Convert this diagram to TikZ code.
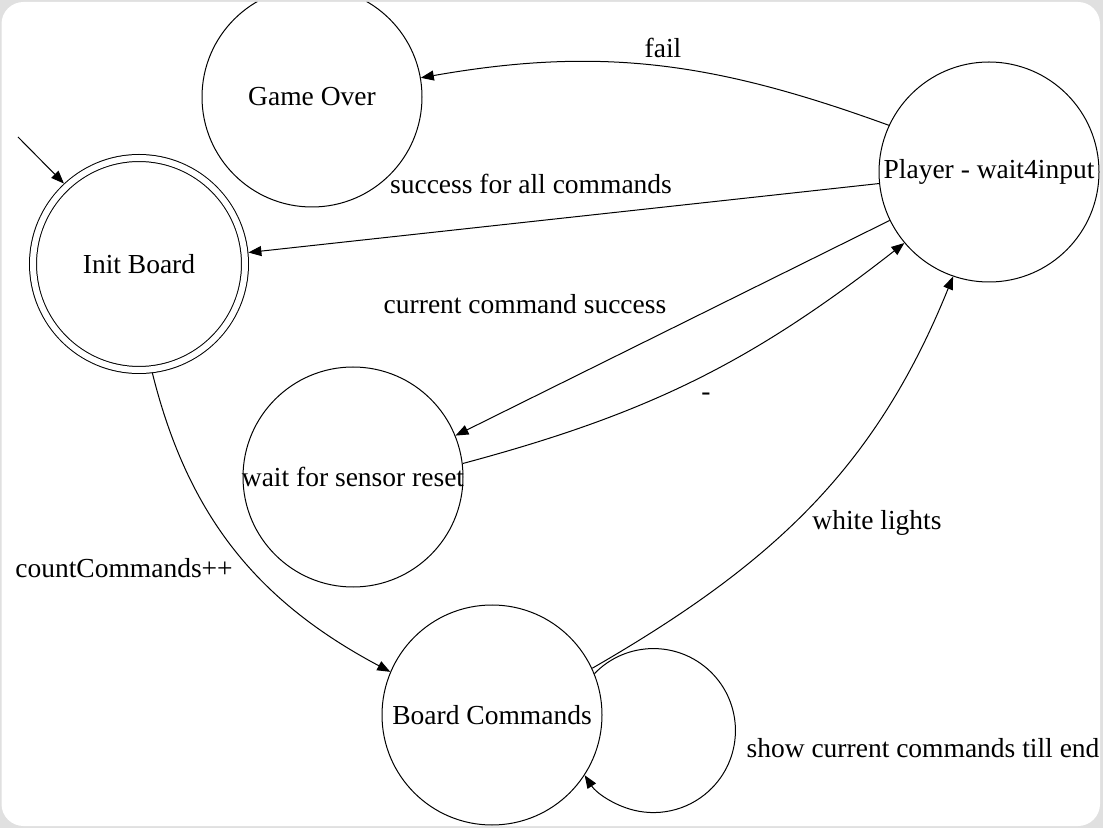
\documentclass[tikz,border=0pt]{standalone}
\usepackage{fontspec}
\setmainfont{Liberation Serif}
\usetikzlibrary{arrows.meta}
\definecolor{framegray}{RGB}{224,224,224}

\begin{document}
\begin{tikzpicture}[x=1pt,y=1pt,
	state/.style={circle,draw,line width=1pt,minimum size=220pt,inner sep=0pt,font=\fontsize{27.5}{33}\selectfont},
	lbl/.style={inner sep=0pt,font=\fontsize{27.5}{33}\selectfont},
	trans/.style={line width=1pt,-{Triangle[length=13pt,width=10pt]}}]
			\useasboundingbox (0,0) rectangle (1103,828);
			\fill[framegray] (0,0) rectangle (1103,828);
			\clip[rounded corners=22pt] (1.5,2) rectangle (1100,826);
			\fill[white] (0,0) rectangle (1103,828);
			%STATES
			\node[state] (over) at (312,731) {Game Over};
			\node[state] (player) at (989,656) {Player - wait4input};
			\node[state,double,double distance=6pt,minimum size=212pt,outer sep=4pt] (init) at (139,564) {Init Board};
			\node[state] (sensor) at (353,351) {\makebox[0pt]{wait for sensor reset}};
			\node[state] (board) at (492,113) {Board Commands};
			\coordinate (start) at (18,691);
			
			%TRANSITIONS
			\draw[trans] (start) -- (init.133);
			\draw[trans] (player.155) to[out=160,in=10] (over.10);
			\draw[trans] (player.186) -- (init.6);
			\draw[trans] (player.206) -- (sensor.22);
			\draw[trans] (sensor.7) to[out=15,in=218] (player.220);
			\draw[trans] (init.277) to[out=-76,in=152] (board.157);
			\draw[trans] (board.25) to[out=30,in=248] (player.251);
			\draw[trans] (board.22) arc[start angle=136,end angle=-147,radius=82];
			
			%LABELS
			\node[lbl] (lfail) at (663,780) {fail};
			\node[lbl] (lall) at (531,644) {success for all commands};
			\node[lbl] (lcur) at (525,524) {current command success};
			\node[lbl] (lreset) at (706,431) {-};
			\node[lbl] (lcount) at (124,260) {countCommands++};
			\node[lbl] (lwhite) at (877,305) {white lights};
			\node[lbl] (lloop) at (923,80) {show current commands till end};
			%	\draw[dashed] (0,0) grid[step=100] (1103,828);
		\end{tikzpicture}
\end{document}
